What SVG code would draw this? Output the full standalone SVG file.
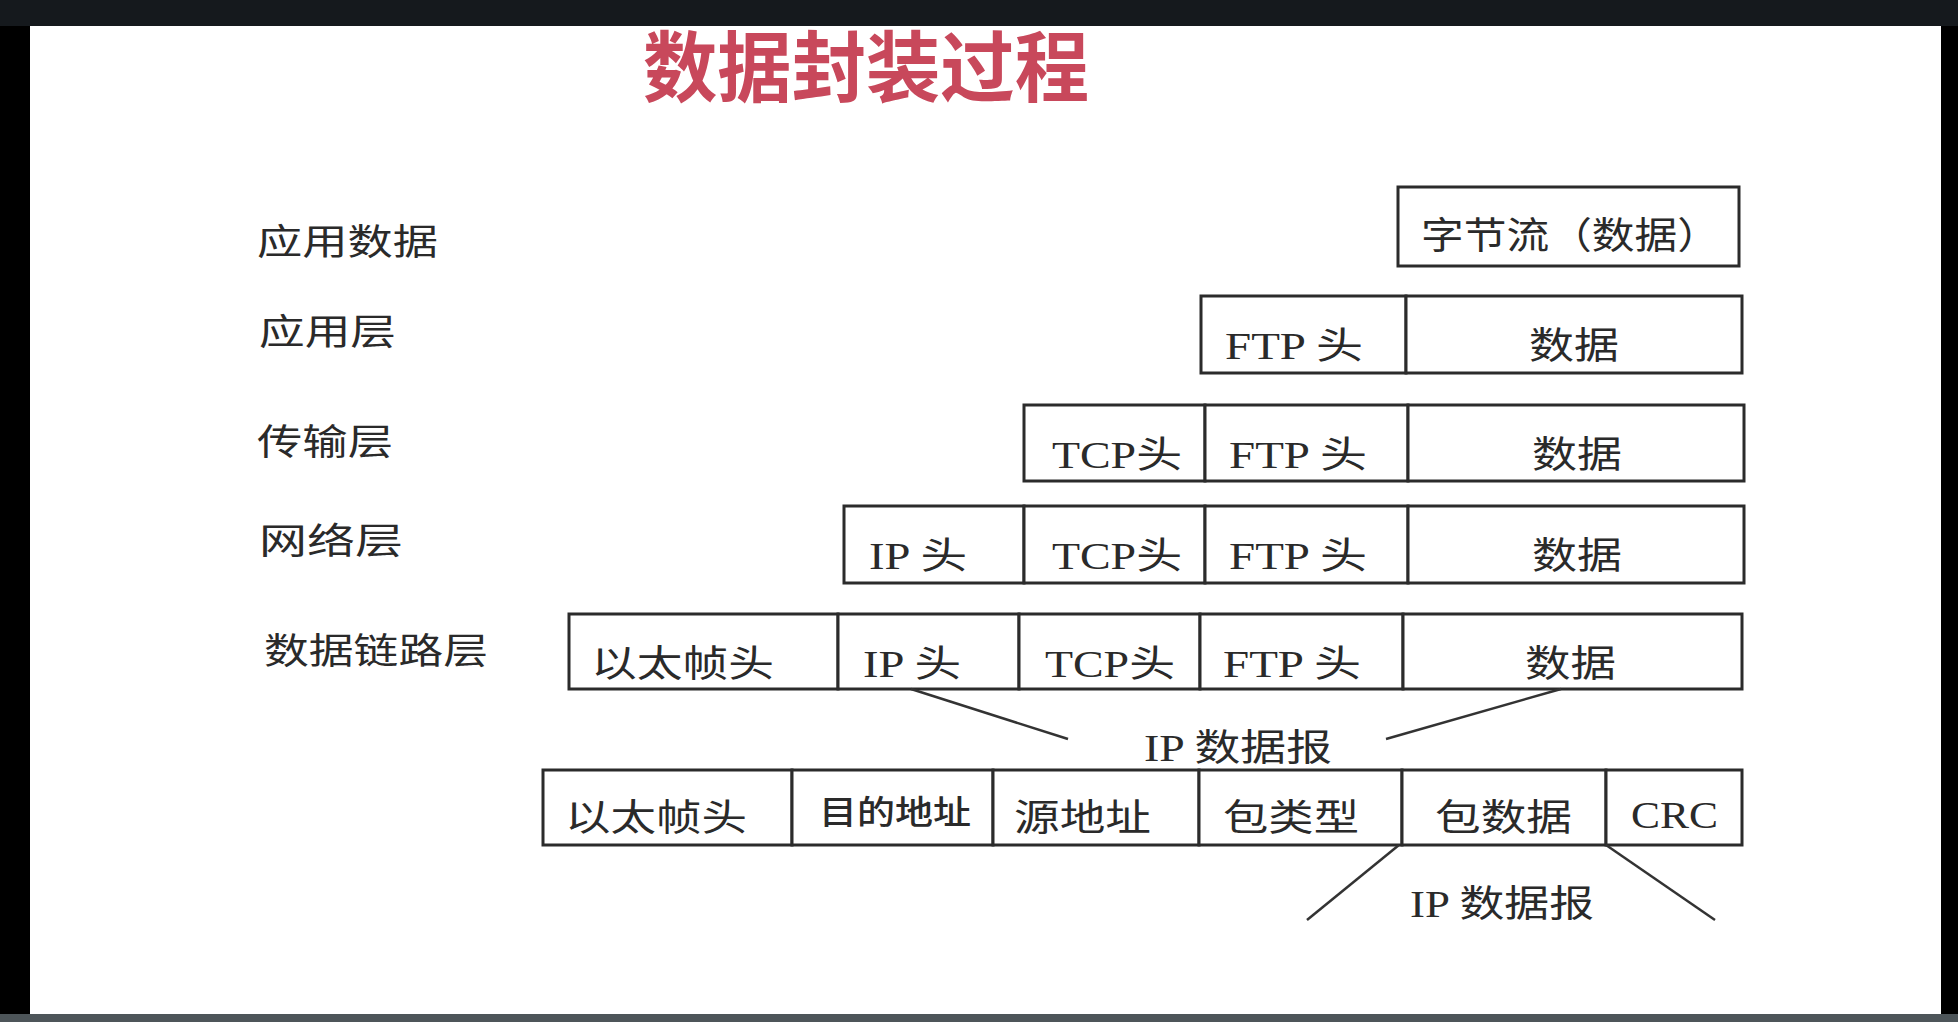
<svg xmlns="http://www.w3.org/2000/svg" width="1958" height="1022" viewBox="0 0 1958 1022">
<style>
.frame{fill:#ffffff}
.cell{fill:#ffffff;stroke:#2b2b2b;stroke-width:3}
.t{font-family:"Liberation Serif","Noto Sans CJK SC",serif;font-size:37px;fill:#2a2a2a}
.lbl{font-family:"Noto Sans CJK SC",sans-serif;font-size:36px;fill:#2a2a2a}
.title{font-family:"Noto Sans CJK SC",sans-serif;font-size:77px;font-weight:700;fill:#c8485b}
.conn line{stroke:#333333;stroke-width:2.5}
</style>
<rect x="0" y="0" width="1958" height="1022" fill="#000000"/>
<rect x="0" y="0" width="1958" height="26" fill="#15191d"/>
<rect x="30" y="26" width="1911" height="988" class="frame"/>
<rect x="0" y="1014" width="1958" height="8" fill="#4d5559"/>

<g id="title"><text class="title" x="643" y="96" textLength="446" lengthAdjust="spacingAndGlyphs">数据封装过程</text></g>

<g id="labels">
<text class="lbl" x="257" y="255" textLength="181" lengthAdjust="spacingAndGlyphs">应用数据</text>
<text class="lbl" x="259" y="345" textLength="137" lengthAdjust="spacingAndGlyphs">应用层</text>
<text class="lbl" x="257" y="455" textLength="136" lengthAdjust="spacingAndGlyphs">传输层</text>
<text class="lbl" x="259" y="554" textLength="144" lengthAdjust="spacingAndGlyphs">网络层</text>
<text class="lbl" x="264" y="664" textLength="224" lengthAdjust="spacingAndGlyphs">数据链路层</text>
</g>

<g id="row0">
<g id="r0-stream"><rect class="cell" x="1398" y="187" width="341" height="79"/><text class="t" x="1421" y="249" textLength="299" lengthAdjust="spacingAndGlyphs">字节流（数据）</text></g>
</g>

<g id="row1">
<g id="r1-ftp"><rect class="cell" x="1201" y="296" width="205" height="77"/><text class="t" x="1225" y="359" textLength="138" lengthAdjust="spacingAndGlyphs">FTP 头</text></g>
<g id="r1-data"><rect class="cell" x="1406" y="296" width="336" height="77"/><text class="t" x="1529" y="359" textLength="90" lengthAdjust="spacingAndGlyphs">数据</text></g>
</g>

<g id="row2">
<g id="r2-tcp"><rect class="cell" x="1024" y="405" width="181" height="76"/><text class="t" x="1052" y="468" textLength="130" lengthAdjust="spacingAndGlyphs">TCP头</text></g>
<g id="r2-ftp"><rect class="cell" x="1205" y="405" width="203" height="76"/><text class="t" x="1229" y="468" textLength="138" lengthAdjust="spacingAndGlyphs">FTP 头</text></g>
<g id="r2-data"><rect class="cell" x="1408" y="405" width="336" height="76"/><text class="t" x="1532" y="468" textLength="90" lengthAdjust="spacingAndGlyphs">数据</text></g>
</g>

<g id="row3">
<g id="r3-ip"><rect class="cell" x="844" y="506" width="180" height="77"/><text class="t" x="869" y="569" textLength="98" lengthAdjust="spacingAndGlyphs">IP 头</text></g>
<g id="r3-tcp"><rect class="cell" x="1024" y="506" width="181" height="77"/><text class="t" x="1052" y="569" textLength="130" lengthAdjust="spacingAndGlyphs">TCP头</text></g>
<g id="r3-ftp"><rect class="cell" x="1205" y="506" width="203" height="77"/><text class="t" x="1229" y="569" textLength="138" lengthAdjust="spacingAndGlyphs">FTP 头</text></g>
<g id="r3-data"><rect class="cell" x="1408" y="506" width="336" height="77"/><text class="t" x="1532" y="569" textLength="90" lengthAdjust="spacingAndGlyphs">数据</text></g>
</g>

<g id="row4">
<g id="r4-eth"><rect class="cell" x="569" y="614" width="269" height="75"/><text class="t" x="591" y="677" textLength="183" lengthAdjust="spacingAndGlyphs">以太帧头</text></g>
<g id="r4-ip"><rect class="cell" x="838" y="614" width="181" height="75"/><text class="t" x="863" y="677" textLength="98" lengthAdjust="spacingAndGlyphs">IP 头</text></g>
<g id="r4-tcp"><rect class="cell" x="1019" y="614" width="181" height="75"/><text class="t" x="1045" y="677" textLength="130" lengthAdjust="spacingAndGlyphs">TCP头</text></g>
<g id="r4-ftp"><rect class="cell" x="1200" y="614" width="203" height="75"/><text class="t" x="1223" y="677" textLength="138" lengthAdjust="spacingAndGlyphs">FTP 头</text></g>
<g id="r4-data"><rect class="cell" x="1403" y="614" width="339" height="75"/><text class="t" x="1525" y="677" textLength="91" lengthAdjust="spacingAndGlyphs">数据</text></g>
</g>

<g id="row5">
<g id="r5-eth"><rect class="cell" x="543" y="770" width="249" height="75"/><text class="t" x="565" y="831" textLength="182" lengthAdjust="spacingAndGlyphs">以太帧头</text></g>
<g id="r5-dst"><rect class="cell" x="792" y="770" width="201" height="75"/><text class="t" x="819" y="824" style="font-size:33px;font-weight:500" textLength="152" lengthAdjust="spacingAndGlyphs">目的地址</text></g>
<g id="r5-src"><rect class="cell" x="993" y="770" width="206" height="75"/><text class="t" x="1014" y="831" textLength="137" lengthAdjust="spacingAndGlyphs">源地址</text></g>
<g id="r5-type"><rect class="cell" x="1199" y="770" width="203" height="75"/><text class="t" x="1223" y="831" textLength="136" lengthAdjust="spacingAndGlyphs">包类型</text></g>
<g id="r5-pdata"><rect class="cell" x="1402" y="770" width="204" height="75"/><text class="t" x="1435" y="831" textLength="137" lengthAdjust="spacingAndGlyphs">包数据</text></g>
<g id="r5-crc"><rect class="cell" x="1606" y="770" width="136" height="75"/><text class="t" x="1631" y="828" textLength="87" lengthAdjust="spacingAndGlyphs">CRC</text></g>
</g>

<g id="connectors" class="conn">
<line x1="911" y1="689" x2="1068" y2="739"/>
<line x1="1561" y1="689" x2="1386" y2="739"/>
<line x1="1399" y1="845" x2="1307" y2="920"/>
<line x1="1606" y1="845" x2="1715" y2="920"/>
</g>

<g id="datagram-labels">
<text class="t" x="1144" y="761" textLength="188" lengthAdjust="spacingAndGlyphs">IP 数据报</text>
<text class="t" x="1410" y="917" textLength="184" lengthAdjust="spacingAndGlyphs">IP 数据报</text>
</g>
</svg>
